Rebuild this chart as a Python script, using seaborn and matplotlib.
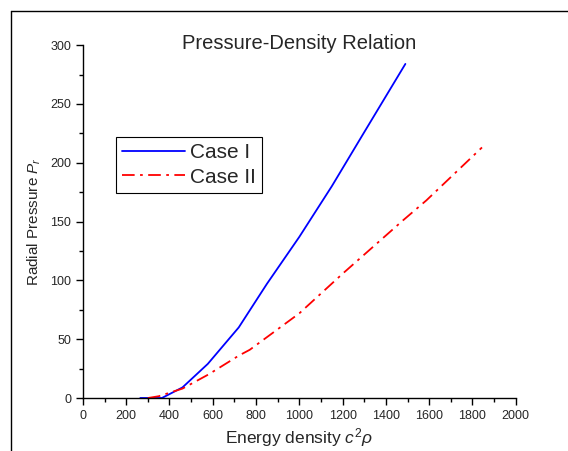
import numpy as np
import pandas as pd
import matplotlib
matplotlib.use("Agg")
import matplotlib.pyplot as plt
from matplotlib.lines import Line2D
from matplotlib.ticker import MultipleLocator
import seaborn as sns

# -------------------------
# Data
# -------------------------
case1_x = [265, 365, 460, 577, 720, 850, 1000, 1150, 1300, 1490]
case1_y = [0, 0, 9, 29, 60, 97, 137, 180, 226, 284]

case2_x = [300, 350, 460, 580, 720, 771, 1000, 1202, 1479, 1587, 1844]
case2_y = [0, 1.5, 8, 20, 36, 41, 72, 106, 151, 168, 213]

df1 = pd.DataFrame({"rho": case1_x, "P": case1_y})
df2 = pd.DataFrame({"rho": case2_x, "P": case2_y})

# -------------------------
# Style
# -------------------------
sns.set_style("ticks")
plt.rcParams["font.family"] = ["Liberation Sans", "DejaVu Sans"]
plt.rcParams["mathtext.fontset"] = "custom"
plt.rcParams["mathtext.rm"] = "Liberation Sans"
plt.rcParams["mathtext.it"] = "Liberation Sans:italic"

fig = plt.figure(figsize=(5.68, 4.51), dpi=100)
ax = fig.add_axes([0.146, 0.1175, 0.762, 0.7825])

sns.lineplot(data=df1, x="rho", y="P", ax=ax, color="#0000ff", lw=1.3,
             sort=False, label="Case I")
sns.lineplot(data=df2, x="rho", y="P", ax=ax, color="#ff0000", lw=1.3,
             sort=False, label="Case II", dashes=False)
ax.lines[1].set_dashes([7, 3, 1.5, 3])

ax.set_xlim(0, 2000)
ax.set_ylim(0, 300)
ax.xaxis.set_major_locator(MultipleLocator(200))
ax.xaxis.set_minor_locator(MultipleLocator(100))
ax.yaxis.set_major_locator(MultipleLocator(50))
ax.yaxis.set_minor_locator(MultipleLocator(25))
ax.tick_params(which="major", direction="out", length=5, width=1, labelsize=9, color="black")
ax.tick_params(which="minor", direction="out", length=3, width=1, color="black")
sns.despine(ax=ax)
for s in ["left", "bottom"]:
    ax.spines[s].set_linewidth(1)
    ax.spines[s].set_color("black")

ax.set_xlabel(r"Energy density $c^2\rho$", fontsize=12.5, labelpad=3)
ax.set_ylabel(r"Radial Pressure $P_r$", fontsize=11, labelpad=5)
ax.set_title("Pressure-Density Relation", fontsize=14.5, y=0.965)

leg = ax.legend(loc="upper left", bbox_to_anchor=(0.076, 0.739), borderaxespad=0,
                fancybox=False, edgecolor="black", framealpha=1, fontsize=15,
                handlelength=3.0, handletextpad=0.25, labelspacing=0.25,
                borderpad=0.3)
leg.get_frame().set_linewidth(0.8)

# outer frame around the figure
fig.add_artist(Line2D([11 / 568, 1.0], [1 - 11 / 451, 1 - 11 / 451],
                      transform=fig.transFigure, color="black", lw=1))
fig.add_artist(Line2D([11 / 568, 11 / 568], [0, 1 - 11 / 451],
                      transform=fig.transFigure, color="black", lw=1))

plt.savefig("out.png", dpi=100)
